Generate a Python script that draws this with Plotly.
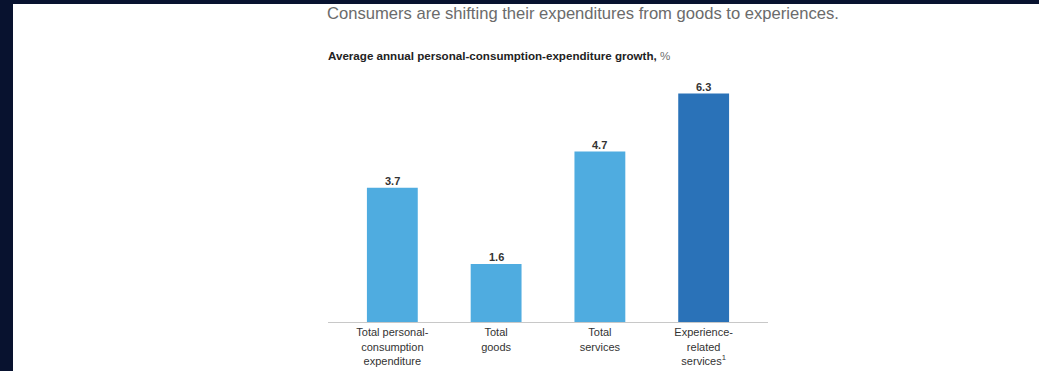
import plotly.graph_objects as go

categories = ["Total personal-<br>consumption<br>expenditure", "Total<br>goods", "Total<br>services", "Experience-<br>related<br>services<sup>1</sup>"]
values = [3.7, 1.6, 4.7, 6.3]
bar_colors = ["#4FACE0", "#4FACE0", "#4FACE0", "#2A72B8"]
value_labels = ["3.7", "1.6", "4.7", "6.3"]

W, H = 1039, 371
L, R, T, B = 328, 271, 68, 49
pw, ph = W - L - R, H - T - B

def py(ypx):
    return (H - B - ypx) / ph

def px(xpx):
    return (xpx - L) / pw

fig = go.Figure(go.Bar(
    x=list(range(len(values))), y=values,
    marker=dict(color=bar_colors, line=dict(width=0)),
    width=0.49,
    hoverinfo="skip",
))

for i, (v, lab) in enumerate(zip(values, value_labels)):
    fig.add_annotation(x=i, y=v, xref="x", yref="y", text="<b>%s</b>" % lab,
                       showarrow=False, xanchor="center", yanchor="bottom", yshift=-1.5,
                       font=dict(size=11, color="#333333"))

fig.update_layout(
    width=W, height=H,
    margin=dict(l=L, r=R, t=T, b=B, pad=0),
    paper_bgcolor="white", plot_bgcolor="white",
    showlegend=False,
    font=dict(family="Liberation Sans, Arial, sans-serif", color="#333333"),
    xaxis=dict(
        range=[-0.62, 3.62],
        tickmode="array", tickvals=list(range(len(categories))), ticktext=categories,
        tickfont=dict(size=11, color="#333333"),
        showgrid=False, zeroline=False,
        showline=True, linecolor="#c8c8c8", linewidth=1,
        ticks="", fixedrange=True, automargin=False,
    ),
    yaxis=dict(range=[0, 7], visible=False, fixedrange=True, automargin=False),
)

# dark page frame (kept inside the page bounds)
fig.add_shape(type="rect", xref="paper", yref="paper",
              x0=px(0), x1=px(W), y0=py(4), y1=py(0),
              fillcolor="#08122F", line=dict(width=0), layer="above")
fig.add_shape(type="rect", xref="paper", yref="paper",
              x0=px(0), x1=px(13), y0=py(H), y1=py(0),
              fillcolor="#08122F", line=dict(width=0), layer="above")

fig.add_annotation(xref="paper", yref="paper", x=px(325), y=py(14),
                   xanchor="left", yanchor="middle", showarrow=False,
                   text="Consumers are shifting their expenditures from goods to experiences.",
                   font=dict(size=16.6, color="#6b6b6b"))
fig.add_annotation(xref="paper", yref="paper", x=px(326), y=py(55),
                   xanchor="left", yanchor="middle", showarrow=False,
                   text="<b>Average annual personal-consumption-expenditure growth,</b> <span style='color:#707070'>%</span>",
                   font=dict(size=11.6, color="#222222"))

fig.write_html("out.html")
